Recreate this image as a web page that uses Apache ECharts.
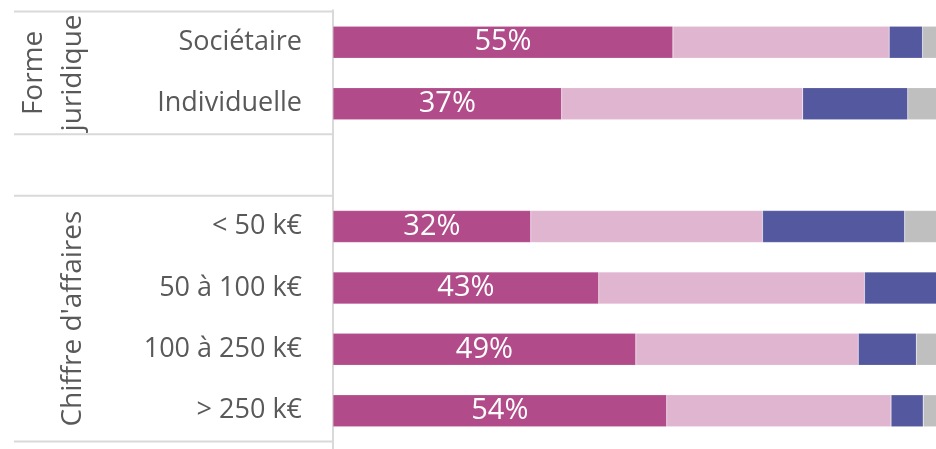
<!DOCTYPE html>
<html>
<head>
<meta charset="utf-8">
<script src="https://cdn.jsdelivr.net/npm/echarts@6.0.0/dist/echarts.min.js"></script>
<style>
  html, body { margin: 0; padding: 0; background: #fff; }
  #chart { width: 936px; height: 449px; }
</style>
</head>
<body>
<div id="chart"></div>
<script>
// categories, top to bottom (empty slot separates the two groups)
const categories = ["Sociétaire", "Individuelle", "", "< 50 k€", "50 à 100 k€", "100 à 250 k€", "> 250 k€"];
const groups = [
  { name: "Forme\njuridique", from: 0, to: 1 },
  { name: "Chiffre d'affaires", from: 3, to: 6 }
];

// shares in %
const part1 = [55, 37, null, 32, 43, 49, 54];
const part2 = [35, 39, null, 37.5, 43, 36, 36.3];
const part3 = [5.4, 17, null, 23, 12, 9.4, 5.2];
const part4 = [4.6, 7, null, 7.5, 2, 5.6, 4.5];

const colors = ["#b14b8a", "#e0b5d0", "#53589f", "#bfbfbf"];
const font = "'Open Sans', sans-serif";

const chart = echarts.init(document.getElementById("chart"));

const seriesData = [part1, part2, part3, part4];
const option = {
  animation: false,
  grid: { left: 333, top: 11.5, width: 618, height: 430, containLabel: false, outerBoundsMode: "none" },
  xAxis: { type: "value", min: 0, max: 100, show: false },
  yAxis: {
    type: "category",
    data: categories,
    inverse: true,
    axisLine: { show: false },
    axisTick: { show: false },
    axisLabel: { color: "#595959", fontSize: 27, fontFamily: font, margin: 31 },
    splitLine: { show: false }
  },
  series: seriesData.map((d, i) => ({
    name: "Part " + (i + 1),
    type: "bar",
    stack: "total",
    barWidth: 32,
    data: d,
    itemStyle: { color: colors[i], borderColor: "rgba(255,255,255,0.35)", borderWidth: 0.5 },
    label: {
      show: i === 0,
      position: "inside",
      color: "#fff",
      fontSize: 29,
      fontFamily: font,
      formatter: "{c}%"
    }
  }))
};
chart.setOption(option);

// separators and group titles placed through the category scale
const yc = categories.map((c, i) => chart.convertToPixel({ yAxisIndex: 0 }, i));
const band = yc[1] - yc[0];
const x0 = chart.convertToPixel({ xAxisIndex: 0 }, 0);
const lineStyle = { stroke: "#d9d9d9", lineWidth: 2 };
const edges = [yc[0] - band / 2, yc[1] + band / 2, yc[3] - band / 2, yc[6] + band / 2];
const graphic = edges.map(y => ({
  type: "line", silent: true,
  shape: { x1: 14, y1: y, x2: x0, y2: y },
  style: lineStyle
}));
graphic.push({
  type: "line", silent: true,
  shape: { x1: x0, y1: yc[0] - band / 2 - 2, x2: x0, y2: 449 },
  style: lineStyle
});
groups.forEach(g => {
  const cy = (yc[g.from] + yc[g.to]) / 2;
  const twoLines = g.name.indexOf("\n") >= 0;
  graphic.push({
    type: "text", silent: true,
    x: twoLines ? 54 : 73, y: cy,
    rotation: Math.PI / 2,
    style: {
      text: g.name,
      fill: "#595959",
      font: "28px " + font,
      lineHeight: 39,
      align: "center",
      verticalAlign: "middle"
    }
  });
});
chart.setOption({ graphic: graphic });
</script>
</body>
</html>
